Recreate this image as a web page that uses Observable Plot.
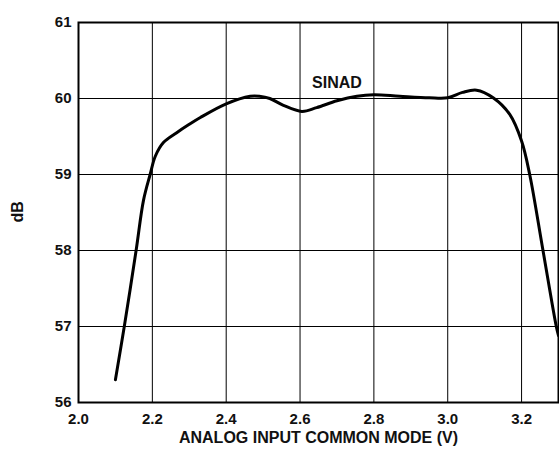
<!DOCTYPE html>
<html>
<head>
<meta charset="utf-8">
<script src="https://cdn.jsdelivr.net/npm/d3@7"></script>
<script src="https://cdn.jsdelivr.net/npm/@observablehq/plot@0.6"></script>
<style>
  body { margin: 0; background: #fff; }
  svg text { font-weight: bold; fill: #111; }
</style>
</head>
<body>
<div id="chart"></div>
<script>
const xValues = [2.10, 2.124, 2.156, 2.176, 2.194, 2.208, 2.23, 2.266, 2.30, 2.33, 2.40, 2.465, 2.49, 2.518, 2.555, 2.605, 2.645, 2.70, 2.754, 2.80, 2.87, 2.95, 3.00, 3.04, 3.078, 3.123, 3.168, 3.20, 3.222, 3.258, 3.294, 3.30];
const sinad   = [56.30, 57.0, 58.0, 58.66, 59.0, 59.24, 59.42, 59.55, 59.66, 59.75, 59.93, 60.03, 60.03, 60.0, 59.91, 59.83, 59.88, 59.97, 60.03, 60.05, 60.03, 60.01, 60.01, 60.08, 60.11, 60.01, 59.79, 59.44, 59.0, 58.0, 57.0, 56.88];
const xTicks = [2.0, 2.2, 2.4, 2.6, 2.8, 3.0, 3.2];
const yTicks = [56, 57, 58, 59, 60, 61];
const seriesLabel = "SINAD";
const xTitle = "ANALOG INPUT COMMON MODE (V)";
const yTitle = "dB";

const data = xValues.map((x, i) => ({x, y: sinad[i]}));

const chart = Plot.plot({
  width: 559,
  height: 449,
  marginLeft: 78,
  marginRight: 1,
  marginTop: 22,
  marginBottom: 47,
  style: {fontFamily: "'Liberation Sans', Arial, sans-serif", fontSize: "15px", fontWeight: "bold", color: "#000", background: "#fff"},
  x: {domain: [2.0, 3.3]},
  y: {domain: [56, 61]},
  marks: [
    Plot.gridX(xTicks, {stroke: "#000", strokeOpacity: 1, strokeWidth: 1}),
    Plot.gridY(yTicks, {stroke: "#000", strokeOpacity: 1, strokeWidth: 1}),
    Plot.frame({stroke: "#000", strokeWidth: 2}),
    Plot.axisX(xTicks, {tickSize: 0, tickPadding: 11, tickFormat: d3.format(".1f"), label: null, fontSize: 15, fontWeight: "bold"}),
    Plot.axisY(yTicks, {tickSize: 0, tickPadding: 7, tickFormat: d3.format("d"), label: null, fontSize: 15, fontWeight: "bold"}),
    Plot.line(data, {x: "x", y: "y", stroke: "#000", strokeWidth: 3, curve: "catmull-rom", clip: true}),
    Plot.text([seriesLabel], {x: 2.70, y: 60.2, fontSize: 16, fontWeight: "bold"}),
    Plot.text([xTitle], {frameAnchor: "bottom", dy: 40, fontSize: 16, fontWeight: "bold"}),
    Plot.text([yTitle], {frameAnchor: "left", dx: -61, dy: 10, rotate: -90, fontSize: 16, fontWeight: "bold"})
  ]
});
document.getElementById("chart").appendChild(chart);
</script>
</body>
</html>
